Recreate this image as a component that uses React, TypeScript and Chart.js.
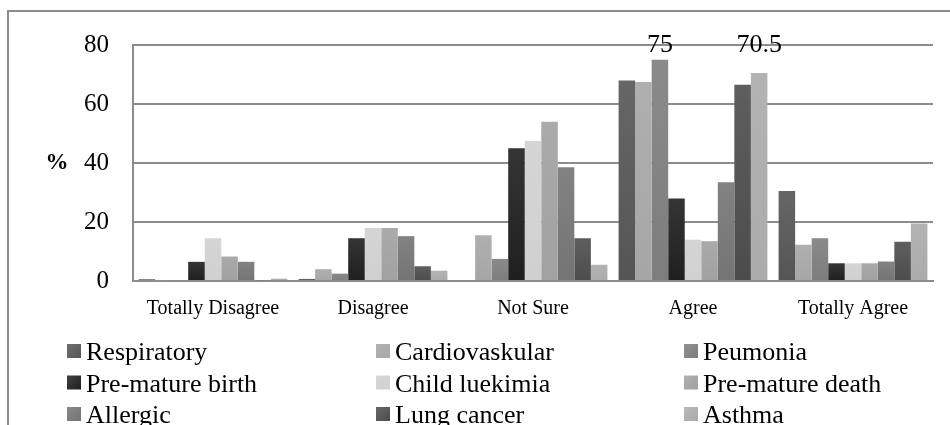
import React, { useEffect, useRef } from 'react';
import { Chart, registerables } from 'chart.js';

Chart.register(...registerables);

const categories = ['Totally Disagree', 'Disagree', 'Not Sure', 'Agree', 'Totally Agree'];
const seriesNames = [
  'Respiratory',
  'Cardiovaskular',
  'Peumonia',
  'Pre-mature birth',
  'Child luekimia',
  'Pre-mature death',
  'Allergic',
  'Lung cancer',
  'Asthma',
];
const respiratory = [0.6, 0.7, 0, 68, 30.5];
const cardiovaskular = [0.3, 4, 15.5, 67.5, 12.3];
const peumonia = [0.3, 2.5, 7.5, 75, 14.5];
const prematureBirth = [6.5, 14.5, 45, 28, 6];
const childLuekimia = [14.5, 18, 47.5, 14, 6];
const prematureDeath = [8.3, 18, 54, 13.5, 6];
const allergic = [6.5, 15.2, 38.6, 33.5, 6.6];
const lungCancer = [0.3, 5, 14.5, 66.5, 13.3];
const asthma = [0.8, 3.5, 5.5, 70.5, 19.5];
const seriesValues = [
  respiratory,
  cardiovaskular,
  peumonia,
  prematureBirth,
  childLuekimia,
  prematureDeath,
  allergic,
  lungCancer,
  asthma,
];
const seriesColors = [
  '#555555',
  '#a6a6a6',
  '#7d7d7d',
  '#1f1f1f',
  '#d0d0d0',
  '#a1a1a1',
  '#747474',
  '#4c4c4c',
  '#abababab'.slice(0, 7),
];
const yMin = 0;
const yMax = 80;
const yStep = 20;
const yTitle = '%';
const labelledPoints = [
  { series: 'Peumonia', category: 'Agree' },
  { series: 'Asthma', category: 'Agree' },
];

const FONT = "'Liberation Serif', 'Times New Roman', serif";

function lighten(hex: string, amt: number) {
  const n = parseInt(hex.slice(1), 16);
  const r = (n >> 16) & 255;
  const g = (n >> 8) & 255;
  const b = n & 255;
  const f = (v: number) => Math.round(v + (255 - v) * amt);
  return `rgb(${f(r)},${f(g)},${f(b)})`;
}

const overlayPlugin = {
  id: 'overlay',
  afterDraw(chart: any) {
    const ctx = chart.ctx;
    const ys = chart.scales.y;
    ctx.save();
    ctx.fillStyle = '#000';
    // y title
    ctx.font = `bold 23px ${FONT}`;
    ctx.textAlign = 'center';
    ctx.textBaseline = 'middle';
    ctx.fillText(yTitle, 57, ys.getPixelForValue(40));
    // data labels
    ctx.font = `26px ${FONT}`;
    ctx.textBaseline = 'alphabetic';
    labelledPoints.forEach((p) => {
      const di = seriesNames.indexOf(p.series);
      const ci = categories.indexOf(p.category);
      const el = chart.getDatasetMeta(di).data[ci];
      const v = chart.data.datasets[di].data[ci];
      ctx.fillText(String(v), el.x, ys.getPixelForValue(77.5));
    });
    // legend (3 columns x 3 rows)
    const colX = [67, 376, 684];
    const rowY = [351, 382.5, 414];
    const box = 14;
    ctx.font = `26px ${FONT}`;
    ctx.textAlign = 'left';
    ctx.textBaseline = 'alphabetic';
    seriesNames.forEach((name, i) => {
      const c = i % 3;
      const r = Math.floor(i / 3);
      const x = colX[c];
      const y = rowY[r];
      const g = ctx.createLinearGradient(x, y - box / 2, x + box, y + box / 2);
      g.addColorStop(0, lighten(seriesColors[i], 0.15));
      g.addColorStop(1, seriesColors[i]);
      ctx.fillStyle = g;
      ctx.fillRect(x, y - box / 2, box, box);
      ctx.fillStyle = '#000';
      ctx.fillText(name, x + box + 5, y + 9);
    });
    ctx.restore();
  },
};

export default function App() {
  const ref = useRef<HTMLCanvasElement | null>(null);
  useEffect(() => {
    if (!ref.current) return;
    const chart = new Chart(ref.current, {
      type: 'bar',
      data: {
        labels: categories,
        datasets: seriesNames.map((name, i) => ({
          label: name,
          data: seriesValues[i],
          backgroundColor: (context: any) => {
            const c = context.chart;
            const ys = c.scales.y;
            const base = seriesColors[i];
            if (!ys || context.type !== 'data') return base;
            const v = context.raw as number;
            const top = ys.getPixelForValue(v);
            const bottom = ys.getPixelForValue(0);
            if (!isFinite(top) || !isFinite(bottom) || bottom - top < 1) return base;
            const g = c.ctx.createLinearGradient(0, top, 0, bottom);
            g.addColorStop(0, lighten(base, 0.1));
            g.addColorStop(1, base);
            return g;
          },
          borderWidth: 0,
          categoryPercentage: 0.93,
          barPercentage: 1,
        })),
      },
      options: {
        responsive: false,
        animation: false,
        devicePixelRatio: 1,
        layout: { padding: { left: 33, top: 45, right: 17, bottom: 104 } },
        plugins: {
          legend: { display: false },
          tooltip: { enabled: false },
        },
        scales: {
          x: {
            grid: { display: false, drawTicks: false },
            border: { display: true, color: '#8c8c8c', width: 2 },
            ticks: {
              color: '#000',
              font: { family: FONT, size: 20 },
              padding: 16,
              maxRotation: 0,
              autoSkip: false,
            },
            afterFit: (s: any) => {
              s.height = 40;
            },
          },
          y: {
            min: yMin,
            max: yMax,
            grid: { color: '#8c8c8c', lineWidth: 2, drawTicks: false },
            border: { display: true, color: '#8c8c8c', width: 2 },
            ticks: {
              stepSize: yStep,
              color: '#000',
              font: { family: FONT, size: 25 },
              padding: 24,
            },
            afterFit: (s: any) => {
              s.width = 100;
            },
          },
        },
      },
      plugins: [overlayPlugin],
    });
    return () => chart.destroy();
  }, []);
  return (
    <div style={{ position: 'fixed', left: 0, top: 0, width: 950, height: 425, background: '#fff' }}>
      <div
        style={{
          position: 'absolute',
          left: 7,
          top: 10,
          width: 960,
          height: 430,
          borderTop: '2px solid #8c8c8c',
          borderLeft: '2px solid #8c8c8c',
        }}
      />
      <canvas ref={ref} width={950} height={425} style={{ position: 'absolute', left: 0, top: 0, width: 950, height: 425 }} />
    </div>
  );
}
